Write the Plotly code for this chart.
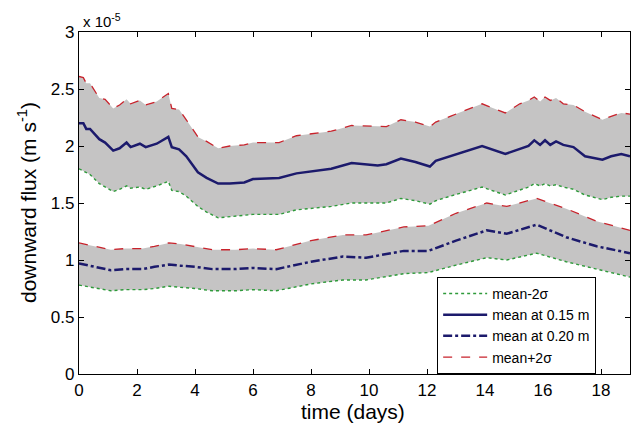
import plotly.graph_objects as go

# values in units of 1e-5 m/s
days_15 = [0, 0.15, 0.25, 0.38, 0.7, 0.9, 1.18, 1.4, 1.64, 1.78, 2.1, 2.3, 2.68, 3.08, 3.2, 3.45, 3.7,
           4.1, 4.4, 4.8, 5.2, 5.7, 6.0, 6.9, 7.5, 8.7, 9.4, 10.3, 10.6, 11.1, 11.6, 12.1, 12.3, 12.8,
           13.9, 14.7, 15.2, 15.5, 15.7, 15.9, 16.07, 16.25, 16.45, 16.7, 17.05, 17.45, 18.05, 18.35,
           18.7, 19.0]
mean_15 = [2.20, 2.20, 2.15, 2.15, 2.06, 2.03, 1.96, 1.98, 2.03, 1.99, 2.02, 1.99, 2.02, 2.08, 1.99,
           1.97, 1.91, 1.77, 1.72, 1.67, 1.67, 1.68, 1.71, 1.72, 1.76, 1.80, 1.85, 1.83, 1.84, 1.89,
           1.86, 1.82, 1.87, 1.91, 2.00, 1.93, 1.97, 2.00, 2.05, 2.01, 2.05, 2.01, 2.04, 2.01, 1.99,
           1.91, 1.88, 1.91, 1.93, 1.91]
upper_15 = [2.61, 2.60, 2.55, 2.55, 2.42, 2.41, 2.33, 2.36, 2.41, 2.37, 2.40, 2.36, 2.39, 2.46, 2.33,
            2.32, 2.23, 2.08, 2.04, 1.98, 2.00, 2.01, 2.03, 2.03, 2.09, 2.13, 2.18, 2.17, 2.17, 2.23,
            2.21, 2.17, 2.21, 2.26, 2.37, 2.29, 2.37, 2.40, 2.43, 2.39, 2.43, 2.40, 2.42, 2.37, 2.36,
            2.30, 2.23, 2.26, 2.29, 2.28]
lower_15 = [1.80, 1.78, 1.76, 1.75, 1.67, 1.64, 1.60, 1.62, 1.65, 1.63, 1.64, 1.62, 1.65, 1.69, 1.61,
            1.60, 1.56, 1.47, 1.42, 1.37, 1.38, 1.39, 1.40, 1.40, 1.44, 1.47, 1.50, 1.50, 1.50, 1.54,
            1.52, 1.49, 1.52, 1.56, 1.64, 1.57, 1.61, 1.64, 1.67, 1.65, 1.67, 1.65, 1.66, 1.64, 1.62,
            1.57, 1.53, 1.55, 1.56, 1.56]

days_20 = [0, 0.4, 1.1, 1.6, 2.2, 2.6, 3.1, 3.5, 4.0, 4.6, 5.4, 6.0, 6.8, 8.0, 9.1, 9.9, 11.2, 12.05,
           13.0, 14.06, 14.75, 15.78, 16.8, 17.85, 19.0]
mean_20 = [0.97, 0.95, 0.91, 0.92, 0.92, 0.94, 0.96, 0.95, 0.94, 0.92, 0.92, 0.93, 0.92, 0.985, 1.03,
           1.02, 1.08, 1.08, 1.17, 1.26, 1.23, 1.31, 1.20, 1.12, 1.06]
upper_20 = [1.15, 1.13, 1.09, 1.10, 1.10, 1.12, 1.15, 1.14, 1.12, 1.09, 1.09, 1.10, 1.09, 1.17, 1.22,
            1.22, 1.29, 1.30, 1.41, 1.50, 1.47, 1.54, 1.45, 1.34, 1.26]
lower_20 = [0.78, 0.76, 0.73, 0.74, 0.74, 0.75, 0.77, 0.76, 0.75, 0.73, 0.73, 0.74, 0.73, 0.79, 0.825,
            0.825, 0.88, 0.89, 0.955, 1.02, 1.00, 1.06, 0.985, 0.92, 0.85]

x_ticks = [0, 2, 4, 6, 8, 10, 12, 14, 16, 18]
y_ticks = [0, 0.5, 1, 1.5, 2, 2.5, 3]
y_tick_text = ["0", "0.5", "1", "1.5", "2", "2.5", "3"]

GRAY = "#c5c4c4"
GREEN = "#2e9a3a"
NAVY = "#1c1a6c"
RED = "#c8232c"
FONT = "Liberation Sans, Arial"

fig = go.Figure()

# shaded bands
for d, lo, hi in [(days_15, lower_15, upper_15), (days_20, lower_20, upper_20)]:
    fig.add_trace(go.Scatter(x=d, y=lo, mode="lines", line=dict(width=0), showlegend=False,
                             hoverinfo="skip"))
    fig.add_trace(go.Scatter(x=d, y=hi, mode="lines", line=dict(width=0), fill="tonexty",
                             fillcolor=GRAY, showlegend=False, hoverinfo="skip"))

fig.add_trace(go.Scatter(x=days_15, y=lower_15, mode="lines", name="mean-2σ",
                         line=dict(color=GREEN, width=1.4, dash="dot")))
fig.add_trace(go.Scatter(x=days_15, y=mean_15, mode="lines", name="mean at 0.15 m",
                         line=dict(color=NAVY, width=2.5)))
fig.add_trace(go.Scatter(x=days_20, y=mean_20, mode="lines", name="mean at 0.20 m",
                         line=dict(color=NAVY, width=2.5, dash="dashdot")))
fig.add_trace(go.Scatter(x=days_15, y=upper_15, mode="lines", name="mean+2σ",
                         line=dict(color=RED, width=1.3, dash="dash")))
fig.add_trace(go.Scatter(x=days_20, y=lower_20, mode="lines", showlegend=False,
                         line=dict(color=GREEN, width=1.4, dash="dot")))
fig.add_trace(go.Scatter(x=days_20, y=upper_20, mode="lines", showlegend=False,
                         line=dict(color=RED, width=1.3, dash="dash")))

axis_common = dict(showgrid=False, zeroline=False, showline=True, linecolor="black", linewidth=1.2,
                   mirror="ticks", ticks="inside", ticklen=5, tickcolor="black", tickwidth=1,
                   tickfont=dict(family=FONT, size=17, color="black"))

fig.update_layout(
    width=636, height=426,
    margin=dict(l=79, r=6, t=32, b=52),
    paper_bgcolor="white", plot_bgcolor="white",
    font=dict(family=FONT, color="black"),
    xaxis=dict(range=[0, 19], tickvals=x_ticks, **axis_common),
    yaxis=dict(range=[0, 3], tickvals=y_ticks, ticktext=y_tick_text, **axis_common),
    legend=dict(x=0.65, y=0.284, xanchor="left", yanchor="top",
                bgcolor="white", bordercolor="black", borderwidth=1,
                font=dict(family=FONT, size=14, color="black"),
                traceorder="normal", tracegroupgap=0, itemwidth=44),
    showlegend=True,
)

fig.add_annotation(xref="paper", yref="paper", x=0.003, y=1.0, xanchor="left", yanchor="bottom",
                   text="x 10<sup>-5</sup>", showarrow=False,
                   font=dict(family=FONT, size=15, color="black"))
fig.add_annotation(xref="paper", yref="paper", x=(27 - 79) / 551, y=(374 - 203) / 342,
                   xanchor="center", yanchor="middle", textangle=-90,
                   text="downward flux (m s<sup>-1</sup>)", showarrow=False,
                   font=dict(family=FONT, size=21, color="black"))
fig.add_annotation(xref="paper", yref="paper", x=(353 - 79) / 551, y=(374 - 411) / 342,
                   xanchor="center", yanchor="middle",
                   text="time (days)", showarrow=False,
                   font=dict(family=FONT, size=21, color="black"))

fig.write_html("out.html")
